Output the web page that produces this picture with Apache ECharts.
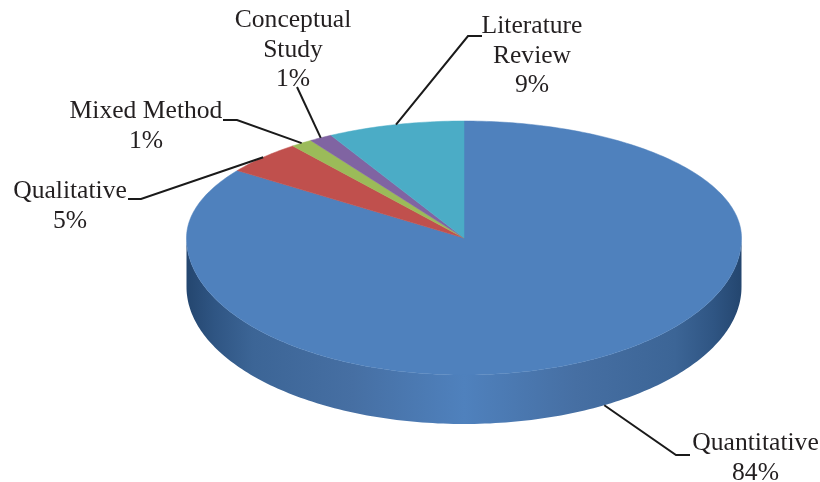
<!DOCTYPE html>
<html>
<head>
<meta charset="utf-8">
<style>
html,body{margin:0;padding:0;background:#fff;}
#main{width:820px;height:482px;}
</style>
<script src="https://cdn.jsdelivr.net/npm/echarts@6/dist/echarts.min.js"></script>
</head>
<body>
<div id="main"></div>
<script>
// slices, clockwise from 12 o'clock
var categories = ['Quantitative', 'Qualitative', 'Mixed Method', 'Conceptual\nStudy', 'Literature\nReview'];
var shares = [84.2, 4.6, 1.3, 1.4, 8.5];
var colors = ['#4f81bd', '#c0504d', '#9bbb59', '#8064a2', '#4bacc6'];

// label centre and the elbow of the leader line, per slice
var labelPos = [[755.5, 458], [70, 206], [146, 126], [293, 50], [532, 56]];
var elbows = [
    [[676, 455], [690, 455]],
    [[141, 199], [128, 199]],
    [[237, 120], [223, 120]],
    [[297, 87]],
    [[468, 36], [482, 36]]
];

// the disc, seen in perspective: flatter behind the centre than in front of it
var cx = 464, cy = 238, radiusX = 277.5, radiusBack = 117, radiusFront = 137, persp = 0.0787, depth = 49;
var total = shares.reduce(function (a, b) { return a + b; }, 0);

function rim(deg, drop) {
    var t = deg * Math.PI / 180;
    var near = -Math.cos(t);
    var w = 1 - persp * near;
    var x = Math.sin(t) / w * 276.6;
    var y = near / w * 126.2;
    var ry = y < 0 ? radiusBack : radiusFront;
    var s = 1 / Math.sqrt(x * x / (radiusX * radiusX) + y * y / (ry * ry));
    return [cx + x * s, cy + y * s + (drop || 0)];
}

var sideFill = new echarts.graphic.LinearGradient(cx - radiusX, 0, cx + radiusX, 0, [
    {offset: 0, color: '#24466f'},
    {offset: 0.05, color: '#2f5583'},
    {offset: 0.12, color: '#3c6596'},
    {offset: 0.3, color: '#466fa3'},
    {offset: 0.5, color: '#4f81bd'},
    {offset: 0.7, color: '#466fa3'},
    {offset: 0.88, color: '#3c6596'},
    {offset: 0.95, color: '#2f5583'},
    {offset: 1, color: '#24466f'}
], true);

function renderSlice(params, api) {
    var i = params.dataIndex;
    var before = 0;
    for (var k = 0; k < i; k++) before += shares[k];
    var a0 = before / total * 360;
    var a1 = a0 + api.value(0) / total * 360;
    var mid = (a0 + a1) / 2;
    var children = [];

    // top face
    var top = [[cx, cy]];
    for (var a = a0; a < a1; a += 1) top.push(rim(a));
    top.push(rim(a1));
    children.push({
        type: 'polygon', z2: 2,
        shape: {points: top},
        style: {fill: colors[i], stroke: colors[i], lineWidth: 0.5}
    });

    // wall, only the part facing the viewer
    var s0 = Math.max(a0, 90), s1 = Math.min(a1, 270);
    if (s1 > s0) {
        var upper = [], lower = [];
        for (var b = s0; b < s1; b += 1) {
            upper.push(rim(b));
            lower.unshift(rim(b, depth));
        }
        upper.push(rim(s1));
        lower.unshift(rim(s1, depth));
        children.push({
            type: 'polygon', z2: 1,
            shape: {points: upper.concat(lower)},
            style: {fill: sideFill}
        });
    }

    // leader line from the rim, below the wall when the slice is at the front
    var anchor = rim(mid, mid > 90 && mid < 270 ? depth : 0);
    children.push({
        type: 'polyline', z2: 3,
        shape: {points: [anchor].concat(elbows[i])},
        style: {fill: null, stroke: '#1a1a1a', lineWidth: 2}
    });

    // label
    children.push({
        type: 'text', z2: 4,
        style: {
            text: categories[i] + '\n' + Math.round(api.value(0)) + '%',
            x: labelPos[i][0], y: labelPos[i][1],
            align: 'center', verticalAlign: 'middle',
            fontFamily: 'Liberation Serif', fontSize: 25.6, lineHeight: 29.7,
            fill: '#231f20'
        }
    });
    return {type: 'group', children: children};
}

var myChart = echarts.init(document.getElementById('main'));
var option = {
    backgroundColor: '#fff',
    animation: false,
    series: [{
        type: 'custom',
        coordinateSystem: 'none',
        renderItem: renderSlice,
        data: shares.map(function (v, i) {
            return {name: categories[i], value: [v]};
        })
    }]
};
myChart.setOption(option);
</script>
</body>
</html>
